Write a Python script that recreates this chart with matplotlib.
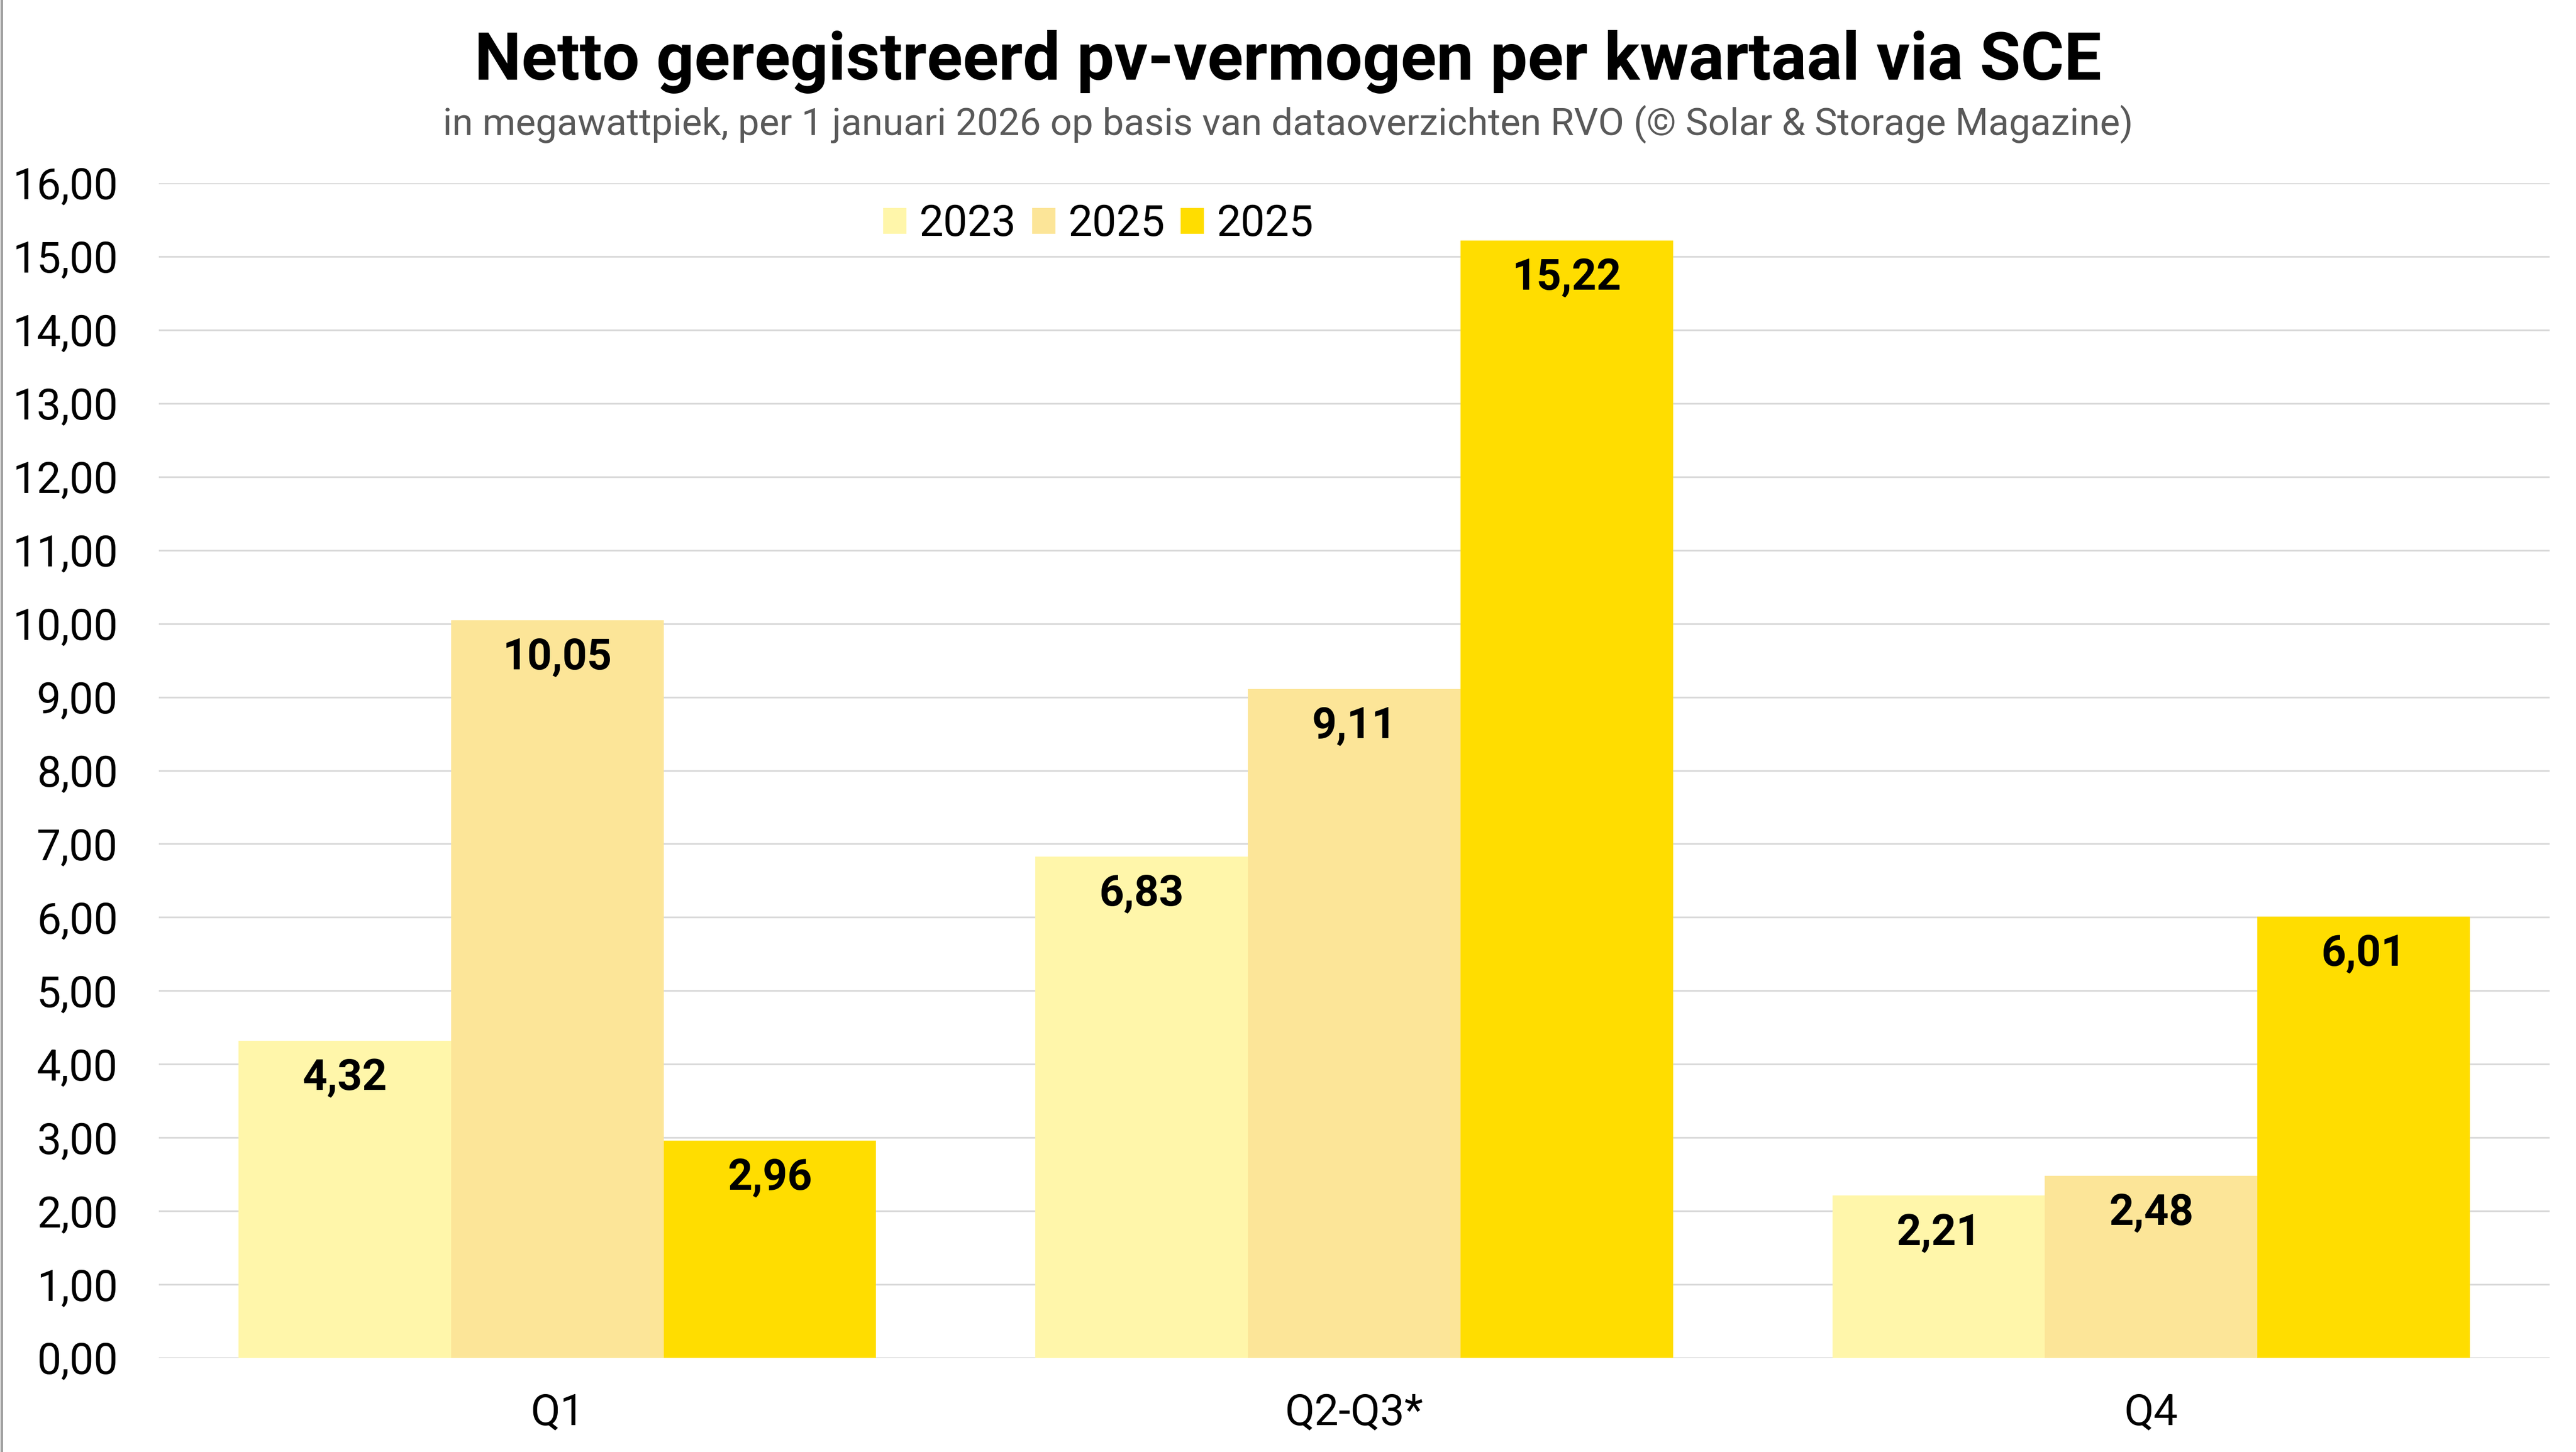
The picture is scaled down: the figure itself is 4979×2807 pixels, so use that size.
import matplotlib
matplotlib.use("Agg")
import matplotlib.pyplot as plt
import numpy as np
from matplotlib.lines import Line2D

plt.rcParams['font.family'] = ['Roboto', 'DejaVu Sans']

# data
kwartalen = ['Q1', 'Q2-Q3*', 'Q4']
series_namen = ['2023', '2025', '2025']
waarden_2023 = [4.32, 6.83, 2.21]
waarden_2025a = [10.05, 9.11, 2.48]
waarden_2025b = [2.96, 15.22, 6.01]
kleuren = ['#FFF6AA', '#FCE598', '#FFDD00']
y_ticks = np.arange(0, 17, 1)

fig = plt.figure(figsize=(4979 / 300, 2807 / 300), dpi=300)
ax = fig.add_axes([0.0617, 0.0648, 0.928, 0.8091])

x = np.arange(len(kwartalen))
breedte = 0.8 / 3
alle_series = [waarden_2023, waarden_2025a, waarden_2025b]

for i, (vals, naam, kleur) in enumerate(zip(alle_series, series_namen, kleuren)):
    pos = x + (i - 1) * breedte
    bars = ax.bar(pos, vals, breedte, color=kleur, label=naam, zorder=3)
    for b, v in zip(bars, vals):
        ax.annotate(f"{v:.2f}".replace('.', ','),
                    (b.get_x() + b.get_width() / 2, b.get_height()),
                    xytext=(0, -17.5), textcoords='offset points',
                    ha='center', va='center', fontsize=20, fontweight='bold',
                    color='black', zorder=4)

ax.set_xlim(-0.5, 2.5)
ax.set_ylim(0, 16)
ax.set_yticks(y_ticks)
ax.set_yticklabels([f"{t:.2f}".replace('.', ',') for t in y_ticks])
ax.set_xticks(x)
ax.set_xticklabels(kwartalen)
ax.tick_params(axis='both', length=0, labelsize=20, colors='black')
ax.tick_params(axis='y', pad=19)
ax.tick_params(axis='x', pad=16)
ax.grid(axis='y', color='#D9D9D9', linewidth=0.8, zorder=0)
for s in ax.spines.values():
    s.set_visible(False)

leg = ax.legend(loc='center', bbox_to_anchor=(0.393, 0.965), ncol=3,
                frameon=False, fontsize=20, handlelength=0.54,
                handleheight=0.54, handletextpad=0.29, columnspacing=0.37)

fig.text(0.5, 0.9575, 'Netto geregistreerd pv-vermogen per kwartaal via SCE',
         ha='center', va='center', fontsize=30.8, fontweight='bold', color='black')
fig.text(0.5, 0.9145,
         'in megawattpiek, per 1 januari 2026 op basis van dataoverzichten RVO (© Solar & Storage Magazine)',
         ha='center', va='center', fontsize=17.6, color='#595959')

# dunne rand links
fig.add_artist(Line2D([0.0006, 0.0006], [0, 1], transform=fig.transFigure,
                      color='#A0A0A0', linewidth=1.2))

fig.savefig('out.png', dpi=300)
